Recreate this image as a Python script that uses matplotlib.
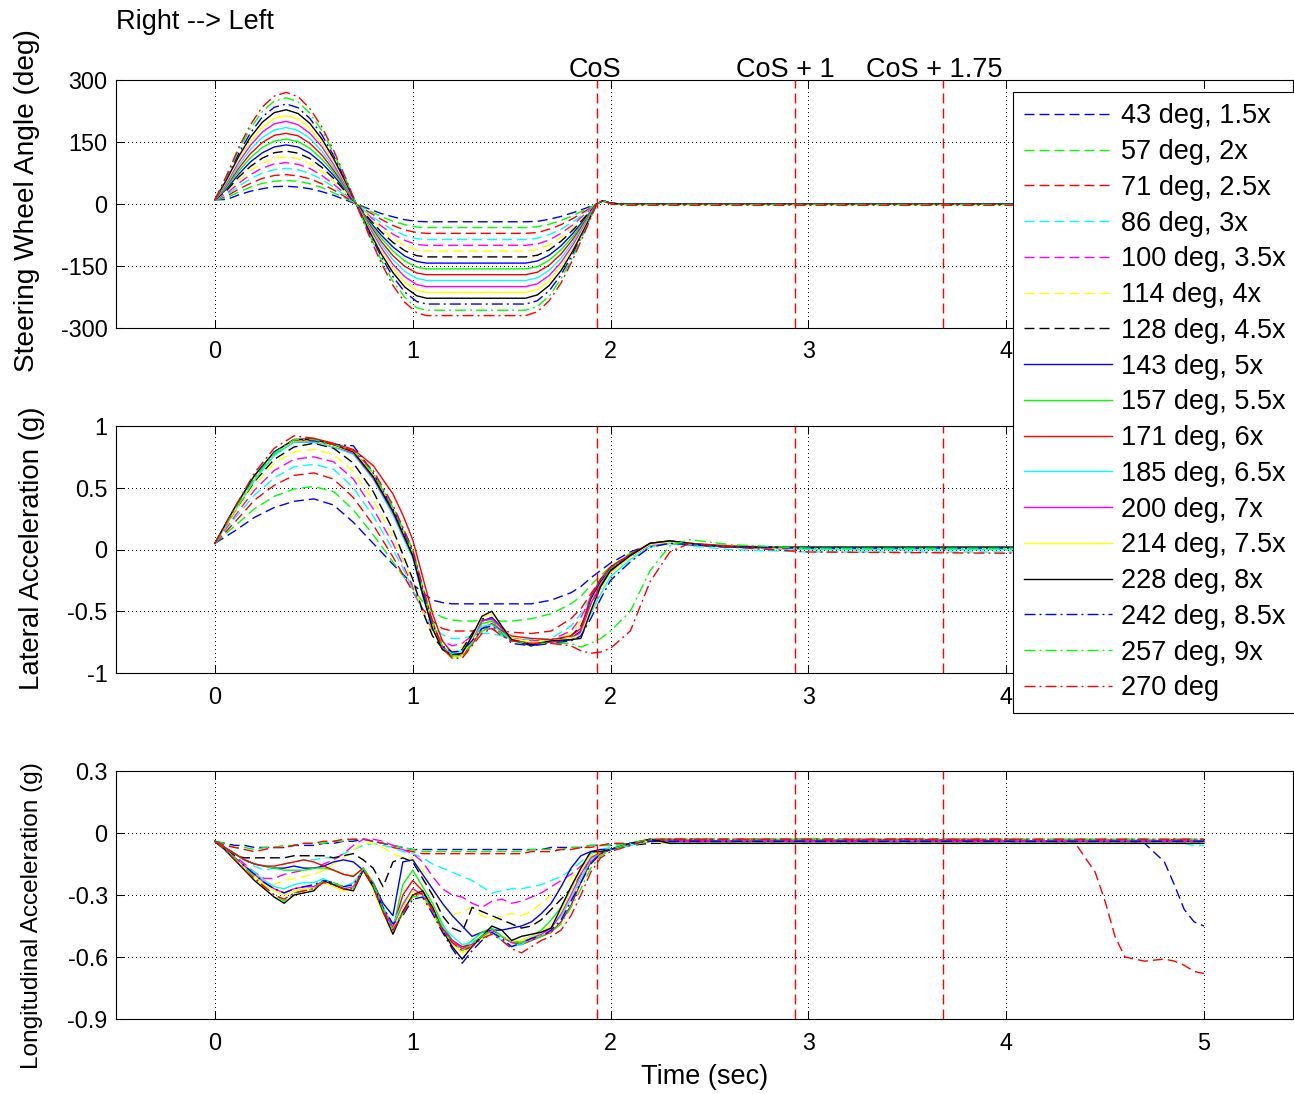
import matplotlib
matplotlib.use("Agg")
import matplotlib.pyplot as plt
from matplotlib.lines import Line2D
from matplotlib.legend_handler import HandlerLine2D

plt.rcParams['font.family'] = ['Liberation Sans', 'DejaVu Sans']
plt.rcParams['axes.unicode_minus'] = False
plt.rcParams['lines.scale_dashes'] = False

# ---------------------------------------------------------------- data
run_labels = ["43 deg, 1.5x", "57 deg, 2x", "71 deg, 2.5x", "86 deg, 3x",
              "100 deg, 3.5x", "114 deg, 4x", "128 deg, 4.5x", "143 deg, 5x",
              "157 deg, 5.5x", "171 deg, 6x", "185 deg, 6.5x", "200 deg, 7x",
              "214 deg, 7.5x", "228 deg, 8x", "242 deg, 8.5x", "257 deg, 9x",
              "270 deg"]
# pure RGB primaries / secondaries
run_colors = ['#0000ff', '#00ff00', '#ff0000', '#00ffff', '#ff00ff', '#ffff00', '#000000',
              '#0000ff', '#00ff00', '#ff0000', '#00ffff', '#ff00ff', '#ffff00', '#000000',
              '#0000ff', '#00ff00', '#ff0000']
run_styles = ['dash'] * 7 + ['solid'] * 7 + ['dashdot'] * 3

# Steering wheel angle (deg)
time_swa = [0.00, 0.06, 0.12, 0.18, 0.24, 0.30, 0.36, 0.42, 0.48, 0.54, 0.60,
            0.66, 0.72, 0.78, 0.84, 0.90, 0.96, 1.02, 1.07, 1.57, 1.63, 1.69,
            1.75, 1.81, 1.87, 1.93, 1.96, 2.00, 2.05, 5.00]
swa = [
    [10, 11, 22, 31, 37, 42, 43, 41, 37, 30, 21, 10, -1, -12, -23, -31, -38, -42, -43, -43, -42, -37, -30, -21, -11, 0, 7, 2, 0, 0],
    [10, 15, 29, 41, 50, 55, 57, 55, 49, 40, 27, 14, -1, -16, -30, -42, -50, -56, -57, -57, -55, -49, -40, -28, -14, 0, 7, 2, 0, 0],
    [10, 19, 36, 50, 62, 69, 71, 68, 61, 49, 34, 17, -2, -20, -37, -52, -63, -69, -71, -71, -69, -61, -50, -35, -18, 0, 7, 1, -1, -1],
    [10, 22, 43, 61, 75, 83, 86, 83, 74, 60, 41, 20, -2, -25, -45, -63, -76, -84, -86, -86, -83, -74, -61, -43, -22, 0, 7, 2, 0, 0],
    [10, 26, 50, 71, 87, 97, 100, 96, 86, 69, 48, 24, -3, -29, -53, -73, -88, -98, -100, -100, -97, -87, -71, -50, -25, 0, 8, 2, 0, 0],
    [10, 30, 57, 81, 99, 110, 114, 110, 98, 79, 55, 27, -3, -32, -60, -83, -100, -111, -114, -114, -110, -99, -80, -57, -29, 0, 8, 2, 0, 0],
    [10, 33, 65, 91, 111, 124, 128, 123, 110, 89, 62, 30, -3, -36, -67, -93, -113, -125, -128, -128, -124, -111, -90, -63, -32, 0, 8, 2, 0, 0],
    [10, 37, 72, 102, 124, 138, 143, 138, 123, 99, 69, 34, -4, -41, -75, -104, -126, -139, -143, -143, -138, -124, -101, -71, -36, 0, 8, 2, 0, 0],
    [10, 41, 79, 112, 137, 152, 157, 151, 135, 109, 76, 37, -4, -45, -82, -114, -138, -153, -157, -157, -152, -136, -111, -78, -40, 0, 8, 2, 0, 0],
    [10, 45, 86, 122, 149, 166, 171, 165, 147, 119, 82, 41, -4, -49, -90, -125, -151, -167, -171, -171, -165, -148, -121, -85, -43, 0, 8, 2, 0, 0],
    [10, 48, 93, 132, 161, 179, 185, 178, 159, 128, 89, 44, -5, -53, -97, -135, -163, -180, -185, -185, -179, -160, -131, -92, -47, 0, 8, 2, 0, 0],
    [10, 52, 101, 142, 174, 194, 200, 192, 171, 139, 96, 47, -5, -57, -105, -146, -176, -195, -200, -200, -193, -173, -141, -99, -51, 0, 8, 2, 0, 0],
    [10, 56, 108, 152, 186, 207, 214, 206, 183, 148, 103, 51, -5, -61, -112, -156, -189, -209, -214, -214, -207, -185, -151, -106, -54, 0, 8, 2, 0, 0],
    [10, 60, 115, 162, 198, 221, 228, 219, 195, 158, 110, 54, -6, -65, -120, -166, -201, -222, -228, -228, -220, -197, -161, -113, -58, 0, 8, 2, 0, 0],
    [10, 63, 122, 172, 211, 234, 242, 233, 207, 168, 117, 57, -6, -69, -127, -176, -213, -236, -242, -242, -234, -210, -171, -120, -61, 0, 8, 2, 0, 0],
    [10, 67, 130, 183, 224, 249, 257, 247, 220, 178, 124, 61, -6, -73, -135, -187, -226, -251, -257, -257, -248, -223, -181, -127, -65, 0, 8, 1, -1, -1],
    [10, 70, 136, 192, 235, 261, 270, 260, 231, 187, 130, 64, -7, -77, -142, -197, -238, -263, -270, -270, -261, -234, -191, -134, -68, 0, 8, 1, -3, -3],
]

# Lateral acceleration (g)
time_ay = [0.0, 0.1, 0.2, 0.3, 0.4, 0.5, 0.6, 0.7, 0.8, 0.9, 0.95, 1.0, 1.05,
           1.1, 1.15, 1.2, 1.25, 1.3, 1.35, 1.4, 1.45, 1.5, 1.6, 1.7, 1.8,
           1.85, 1.9, 1.95, 2.0, 2.1, 2.2, 2.3, 2.4, 2.6, 3.0, 4.0, 5.0]
ay = [
    [0.05, 0.15, 0.26, 0.34, 0.39, 0.41, 0.36, 0.22, 0.05, -0.12, -0.20, -0.28, -0.35, -0.41, -0.43, -0.44, -0.44, -0.44, -0.44, -0.44, -0.44, -0.44, -0.44, -0.41, -0.35, -0.30, -0.23, -0.17, -0.11, -0.02, 0.04, 0.05, 0.04, 0.02, 0.01, 0.01, 0.01],
    [0.05, 0.19, 0.33, 0.43, 0.49, 0.51, 0.47, 0.32, 0.12, -0.10, -0.21, -0.32, -0.42, -0.50, -0.55, -0.57, -0.58, -0.58, -0.57, -0.57, -0.58, -0.58, -0.56, -0.52, -0.44, -0.38, -0.29, -0.21, -0.14, -0.03, 0.04, 0.06, 0.04, 0.02, 0.01, 0.01, 0.01],
    [0.05, 0.22, 0.40, 0.52, 0.60, 0.62, 0.57, 0.42, 0.20, -0.06, -0.20, -0.34, -0.48, -0.58, -0.64, -0.66, -0.66, -0.66, -0.65, -0.64, -0.66, -0.67, -0.68, -0.66, -0.56, -0.48, -0.36, -0.24, -0.15, -0.04, 0.04, 0.06, 0.04, 0.02, 0.00, 0.00, 0.00],
    [0.05, 0.25, 0.44, 0.58, 0.67, 0.69, 0.65, 0.50, 0.27, 0.00, -0.15, -0.32, -0.50, -0.62, -0.69, -0.72, -0.72, -0.70, -0.68, -0.68, -0.70, -0.72, -0.73, -0.72, -0.62, -0.52, -0.38, -0.26, -0.16, -0.05, 0.03, 0.05, 0.03, 0.00, -0.02, -0.02, -0.02],
    [0.05, 0.27, 0.48, 0.64, 0.73, 0.75, 0.71, 0.57, 0.33, 0.05, -0.12, -0.30, -0.50, -0.66, -0.74, -0.78, -0.76, -0.70, -0.64, -0.64, -0.68, -0.72, -0.74, -0.73, -0.66, -0.55, -0.40, -0.27, -0.17, -0.05, 0.03, 0.05, 0.04, 0.02, 0.01, 0.01, 0.01],
    [0.05, 0.29, 0.52, 0.70, 0.79, 0.81, 0.77, 0.63, 0.40, 0.10, -0.08, -0.27, -0.50, -0.68, -0.78, -0.82, -0.79, -0.68, -0.60, -0.60, -0.66, -0.72, -0.75, -0.74, -0.68, -0.58, -0.42, -0.28, -0.17, -0.05, 0.04, 0.06, 0.04, 0.02, 0.01, 0.01, 0.01],
    [0.05, 0.31, 0.55, 0.73, 0.83, 0.86, 0.82, 0.70, 0.47, 0.16, -0.04, -0.24, -0.50, -0.70, -0.80, -0.85, -0.81, -0.68, -0.56, -0.56, -0.64, -0.72, -0.76, -0.74, -0.70, -0.62, -0.44, -0.30, -0.18, -0.06, 0.04, 0.06, 0.04, 0.02, 0.01, 0.01, 0.01],
    [0.05, 0.33, 0.58, 0.77, 0.87, 0.87, 0.83, 0.78, 0.58, 0.30, 0.13, -0.05, -0.35, -0.62, -0.79, -0.85, -0.84, -0.72, -0.58, -0.55, -0.63, -0.73, -0.78, -0.74, -0.72, -0.66, -0.40, -0.26, -0.16, -0.05, 0.05, 0.06, 0.04, 0.02, 0.01, 0.01, 0.01],
    [0.05, 0.32, 0.57, 0.77, 0.88, 0.88, 0.84, 0.79, 0.60, 0.32, 0.15, -0.02, -0.32, -0.60, -0.80, -0.88, -0.86, -0.73, -0.60, -0.58, -0.66, -0.74, -0.76, -0.75, -0.73, -0.68, -0.44, -0.28, -0.16, -0.05, 0.05, 0.07, 0.05, 0.02, 0.01, 0.01, 0.01],
    [0.05, 0.33, 0.58, 0.78, 0.89, 0.90, 0.86, 0.81, 0.68, 0.45, 0.28, 0.08, -0.22, -0.52, -0.74, -0.84, -0.86, -0.77, -0.64, -0.60, -0.66, -0.70, -0.72, -0.73, -0.70, -0.64, -0.38, -0.24, -0.14, -0.04, 0.05, 0.07, 0.05, 0.03, 0.01, 0.01, 0.01],
    [0.05, 0.31, 0.56, 0.76, 0.87, 0.87, 0.83, 0.77, 0.57, 0.28, 0.10, -0.07, -0.38, -0.64, -0.80, -0.84, -0.82, -0.72, -0.62, -0.61, -0.67, -0.74, -0.75, -0.74, -0.72, -0.68, -0.52, -0.36, -0.22, -0.08, 0.02, 0.05, 0.04, 0.02, 0.00, 0.00, 0.00],
    [0.05, 0.33, 0.59, 0.78, 0.88, 0.88, 0.84, 0.78, 0.58, 0.30, 0.12, -0.05, -0.36, -0.63, -0.80, -0.86, -0.84, -0.72, -0.58, -0.56, -0.64, -0.73, -0.76, -0.75, -0.73, -0.67, -0.44, -0.29, -0.17, -0.05, 0.04, 0.06, 0.05, 0.02, 0.01, 0.01, 0.01],
    [0.05, 0.32, 0.58, 0.78, 0.88, 0.88, 0.84, 0.79, 0.60, 0.33, 0.15, -0.03, -0.33, -0.62, -0.81, -0.88, -0.86, -0.72, -0.55, -0.52, -0.62, -0.72, -0.75, -0.74, -0.72, -0.69, -0.48, -0.32, -0.19, -0.06, 0.04, 0.06, 0.05, 0.02, 0.01, 0.01, 0.01],
    [0.05, 0.34, 0.60, 0.79, 0.89, 0.89, 0.85, 0.79, 0.59, 0.31, 0.13, -0.05, -0.36, -0.64, -0.81, -0.86, -0.84, -0.70, -0.54, -0.50, -0.62, -0.73, -0.77, -0.74, -0.73, -0.72, -0.50, -0.30, -0.17, -0.05, 0.05, 0.07, 0.05, 0.02, 0.02, 0.02, 0.02],
    [0.05, 0.33, 0.59, 0.79, 0.89, 0.88, 0.85, 0.84, 0.62, 0.33, 0.16, -0.02, -0.33, -0.60, -0.78, -0.83, -0.82, -0.74, -0.64, -0.62, -0.68, -0.76, -0.78, -0.76, -0.74, -0.70, -0.56, -0.40, -0.25, -0.10, 0.02, 0.05, 0.04, 0.02, 0.01, 0.01, 0.01],
    [0.05, 0.32, 0.58, 0.78, 0.89, 0.89, 0.85, 0.80, 0.62, 0.34, 0.17, 0.00, -0.30, -0.58, -0.78, -0.86, -0.86, -0.76, -0.66, -0.63, -0.68, -0.74, -0.76, -0.76, -0.76, -0.79, -0.76, -0.72, -0.66, -0.50, -0.17, 0.03, 0.08, 0.04, 0.01, 0.01, 0.01],
    [0.05, 0.34, 0.62, 0.82, 0.92, 0.90, 0.85, 0.80, 0.64, 0.36, 0.18, 0.00, -0.30, -0.58, -0.80, -0.88, -0.88, -0.78, -0.68, -0.64, -0.70, -0.74, -0.76, -0.76, -0.78, -0.82, -0.84, -0.83, -0.80, -0.66, -0.26, -0.02, 0.05, 0.02, -0.02, -0.03, -0.03],
]

# Longitudinal acceleration (g)
time_ax = [0.0, 0.05, 0.1, 0.15, 0.2, 0.25, 0.3, 0.35, 0.4, 0.45, 0.5, 0.55,
           0.6, 0.65, 0.7, 0.75, 0.8, 0.85, 0.9, 0.95, 1.0, 1.05, 1.1, 1.15,
           1.2, 1.25, 1.3, 1.35, 1.4, 1.45, 1.5, 1.55, 1.6, 1.65, 1.7, 1.75,
           1.8, 1.85, 1.9, 1.95, 2.0, 2.1, 2.2, 2.3, 2.5, 3.0, 3.5, 4.0, 4.35,
           4.45, 4.5, 4.55, 4.6, 4.7, 4.8, 4.85, 4.9, 4.95, 5.0]
ax_g = [
    [-0.04, -0.05, -0.06, -0.06, -0.07, -0.07, -0.07, -0.07, -0.06, -0.06, -0.06, -0.05, -0.05, -0.04, -0.04, -0.03, -0.04, -0.05, -0.06, -0.07,
     -0.08, -0.08, -0.08, -0.08, -0.08, -0.08, -0.08, -0.08, -0.08, -0.08, -0.08, -0.08, -0.08, -0.08, -0.07, -0.07, -0.07, -0.07, -0.06, -0.06, -0.06,
     -0.05, -0.04, -0.04, -0.04, -0.04, -0.03, -0.04, -0.04, -0.04, -0.04, -0.04, -0.04, -0.05, -0.14, -0.25, -0.37, -0.43, -0.45],
    [-0.04, -0.05, -0.07, -0.07, -0.08, -0.07, -0.07, -0.06, -0.06, -0.05, -0.05, -0.05, -0.04, -0.04, -0.03, -0.03, -0.04, -0.05, -0.06, -0.07,
     -0.08, -0.09, -0.09, -0.09, -0.09, -0.09, -0.09, -0.09, -0.09, -0.09, -0.09, -0.09, -0.08, -0.08, -0.08, -0.08, -0.07, -0.07, -0.06, -0.06, -0.06,
     -0.05, -0.03, -0.03, -0.03, -0.03, -0.04, -0.03, -0.03, -0.03, -0.04, -0.03, -0.03, -0.03, -0.04, -0.03, -0.03, -0.03, -0.03],
    [-0.04, -0.06, -0.07, -0.08, -0.09, -0.08, -0.07, -0.07, -0.06, -0.05, -0.05, -0.04, -0.04, -0.03, -0.03, -0.03, -0.04, -0.05, -0.07, -0.08,
     -0.09, -0.10, -0.10, -0.10, -0.10, -0.10, -0.10, -0.10, -0.10, -0.10, -0.10, -0.10, -0.09, -0.09, -0.09, -0.08, -0.08, -0.07, -0.07, -0.06, -0.05,
     -0.05, -0.04, -0.03, -0.03, -0.03, -0.03, -0.03, -0.05, -0.19, -0.33, -0.50, -0.60, -0.62, -0.61, -0.62, -0.64, -0.67, -0.68],
    [-0.04, -0.07, -0.10, -0.13, -0.16, -0.18, -0.17, -0.15, -0.14, -0.13, -0.13, -0.12, -0.12, -0.10, -0.08, -0.06, -0.05, -0.06, -0.07, -0.09,
     -0.10, -0.12, -0.15, -0.17, -0.19, -0.21, -0.23, -0.26, -0.29, -0.28, -0.27, -0.27, -0.26, -0.25, -0.23, -0.21, -0.18, -0.14, -0.10, -0.08, -0.07,
     -0.05, -0.04, -0.05, -0.05, -0.05, -0.04, -0.05, -0.05, -0.05, -0.04, -0.05, -0.05, -0.05, -0.05, -0.05, -0.05, -0.06, -0.06],
    [-0.04, -0.07, -0.11, -0.15, -0.19, -0.22, -0.22, -0.20, -0.19, -0.18, -0.17, -0.15, -0.13, -0.10, -0.06, -0.03, -0.03, -0.04, -0.06, -0.08,
     -0.10, -0.14, -0.21, -0.27, -0.30, -0.31, -0.34, -0.36, -0.33, -0.32, -0.34, -0.33, -0.31, -0.29, -0.26, -0.23, -0.20, -0.16, -0.12, -0.09, -0.08,
     -0.05, -0.04, -0.04, -0.04, -0.04, -0.04, -0.04, -0.04, -0.04, -0.04, -0.04, -0.04, -0.04, -0.04, -0.04, -0.04, -0.04, -0.04],
    [-0.04, -0.08, -0.12, -0.17, -0.22, -0.26, -0.25, -0.23, -0.22, -0.21, -0.20, -0.18, -0.15, -0.12, -0.08, -0.05, -0.05, -0.07, -0.10, -0.12,
     -0.12, -0.18, -0.27, -0.35, -0.40, -0.38, -0.36, -0.40, -0.42, -0.40, -0.39, -0.40, -0.38, -0.34, -0.30, -0.26, -0.22, -0.17, -0.12, -0.09, -0.08,
     -0.06, -0.04, -0.05, -0.05, -0.05, -0.05, -0.05, -0.05, -0.05, -0.05, -0.05, -0.05, -0.05, -0.05, -0.05, -0.05, -0.05, -0.05],
    [-0.04, -0.08, -0.11, -0.12, -0.12, -0.12, -0.12, -0.12, -0.11, -0.11, -0.11, -0.11, -0.12, -0.11, -0.10, -0.13, -0.17, -0.26, -0.14, -0.12,
     -0.14, -0.22, -0.30, -0.40, -0.46, -0.48, -0.36, -0.38, -0.40, -0.42, -0.44, -0.46, -0.45, -0.42, -0.37, -0.32, -0.27, -0.20, -0.13, -0.09, -0.08,
     -0.06, -0.05, -0.05, -0.05, -0.05, -0.05, -0.05, -0.05, -0.05, -0.05, -0.05, -0.05, -0.05, -0.05, -0.05, -0.05, -0.05, -0.05],
    [-0.04, -0.07, -0.10, -0.13, -0.15, -0.16, -0.17, -0.17, -0.16, -0.17, -0.17, -0.16, -0.14, -0.13, -0.14, -0.18, -0.24, -0.34, -0.40, -0.14,
     -0.13, -0.20, -0.27, -0.34, -0.40, -0.45, -0.50, -0.48, -0.47, -0.47, -0.46, -0.45, -0.43, -0.39, -0.34, -0.26, -0.17, -0.11, -0.09, -0.08, -0.08,
     -0.05, -0.04, -0.04, -0.04, -0.04, -0.04, -0.04, -0.04, -0.04, -0.04, -0.04, -0.04, -0.04, -0.04, -0.04, -0.04, -0.04, -0.04],
    [-0.04, -0.07, -0.10, -0.13, -0.15, -0.16, -0.17, -0.18, -0.18, -0.18, -0.17, -0.17, -0.18, -0.20, -0.21, -0.17, -0.24, -0.36, -0.46, -0.25,
     -0.18, -0.26, -0.34, -0.44, -0.52, -0.56, -0.52, -0.48, -0.46, -0.50, -0.53, -0.52, -0.50, -0.47, -0.42, -0.36, -0.27, -0.18, -0.11, -0.09, -0.08,
     -0.05, -0.03, -0.04, -0.04, -0.03, -0.04, -0.04, -0.04, -0.03, -0.04, -0.04, -0.04, -0.03, -0.04, -0.04, -0.04, -0.04, -0.04],
    [-0.04, -0.07, -0.10, -0.13, -0.15, -0.16, -0.16, -0.15, -0.14, -0.13, -0.14, -0.16, -0.18, -0.20, -0.21, -0.17, -0.25, -0.37, -0.46, -0.30,
     -0.23, -0.28, -0.36, -0.46, -0.52, -0.55, -0.54, -0.50, -0.48, -0.50, -0.53, -0.54, -0.52, -0.50, -0.48, -0.43, -0.35, -0.24, -0.14, -0.10, -0.08,
     -0.05, -0.04, -0.03, -0.04, -0.04, -0.03, -0.04, -0.04, -0.04, -0.03, -0.04, -0.04, -0.04, -0.04, -0.03, -0.04, -0.04, -0.04],
    [-0.04, -0.08, -0.12, -0.16, -0.19, -0.23, -0.26, -0.27, -0.25, -0.24, -0.24, -0.22, -0.25, -0.26, -0.24, -0.18, -0.26, -0.36, -0.44, -0.34,
     -0.27, -0.30, -0.37, -0.45, -0.50, -0.54, -0.53, -0.50, -0.48, -0.52, -0.55, -0.54, -0.51, -0.48, -0.46, -0.40, -0.32, -0.22, -0.13, -0.09, -0.08,
     -0.06, -0.04, -0.05, -0.05, -0.05, -0.05, -0.05, -0.05, -0.05, -0.05, -0.05, -0.05, -0.05, -0.05, -0.05, -0.05, -0.05, -0.05],
    [-0.04, -0.08, -0.12, -0.16, -0.20, -0.24, -0.27, -0.29, -0.27, -0.26, -0.26, -0.23, -0.25, -0.27, -0.26, -0.18, -0.26, -0.37, -0.46, -0.35,
     -0.27, -0.30, -0.38, -0.47, -0.52, -0.56, -0.54, -0.50, -0.47, -0.50, -0.53, -0.53, -0.51, -0.49, -0.46, -0.39, -0.30, -0.20, -0.12, -0.09, -0.08,
     -0.05, -0.04, -0.04, -0.04, -0.04, -0.04, -0.04, -0.04, -0.04, -0.04, -0.04, -0.04, -0.04, -0.04, -0.04, -0.04, -0.04, -0.04],
    [-0.04, -0.08, -0.12, -0.17, -0.21, -0.25, -0.28, -0.30, -0.28, -0.27, -0.27, -0.24, -0.26, -0.28, -0.27, -0.18, -0.27, -0.39, -0.47, -0.36,
     -0.28, -0.31, -0.39, -0.48, -0.54, -0.58, -0.55, -0.51, -0.48, -0.50, -0.52, -0.52, -0.50, -0.48, -0.45, -0.38, -0.28, -0.18, -0.11, -0.09, -0.08,
     -0.05, -0.04, -0.05, -0.05, -0.05, -0.05, -0.05, -0.05, -0.05, -0.05, -0.05, -0.05, -0.05, -0.05, -0.05, -0.05, -0.05, -0.05],
    [-0.04, -0.08, -0.13, -0.18, -0.23, -0.27, -0.31, -0.34, -0.30, -0.29, -0.28, -0.23, -0.25, -0.27, -0.28, -0.18, -0.26, -0.38, -0.49, -0.38,
     -0.30, -0.28, -0.36, -0.47, -0.55, -0.61, -0.55, -0.50, -0.45, -0.47, -0.52, -0.50, -0.49, -0.48, -0.46, -0.36, -0.26, -0.17, -0.09, -0.09, -0.08,
     -0.05, -0.03, -0.05, -0.05, -0.05, -0.05, -0.05, -0.05, -0.05, -0.05, -0.05, -0.05, -0.05, -0.05, -0.05, -0.05, -0.05, -0.05],
    [-0.04, -0.08, -0.12, -0.16, -0.20, -0.24, -0.27, -0.29, -0.27, -0.26, -0.25, -0.23, -0.24, -0.26, -0.25, -0.18, -0.25, -0.36, -0.44, -0.40,
     -0.32, -0.31, -0.39, -0.48, -0.56, -0.63, -0.57, -0.52, -0.48, -0.51, -0.55, -0.53, -0.51, -0.50, -0.47, -0.42, -0.33, -0.24, -0.15, -0.10, -0.08,
     -0.05, -0.04, -0.04, -0.04, -0.04, -0.04, -0.04, -0.04, -0.04, -0.04, -0.04, -0.04, -0.04, -0.04, -0.04, -0.04, -0.04, -0.04],
    [-0.04, -0.08, -0.12, -0.17, -0.21, -0.26, -0.30, -0.33, -0.29, -0.28, -0.27, -0.23, -0.24, -0.26, -0.27, -0.17, -0.25, -0.37, -0.47, -0.39,
     -0.31, -0.30, -0.37, -0.47, -0.53, -0.57, -0.54, -0.50, -0.47, -0.50, -0.53, -0.53, -0.52, -0.50, -0.48, -0.44, -0.36, -0.27, -0.17, -0.11, -0.08,
     -0.05, -0.03, -0.03, -0.03, -0.03, -0.03, -0.03, -0.03, -0.03, -0.03, -0.03, -0.03, -0.03, -0.03, -0.03, -0.03, -0.03, -0.03],
    [-0.04, -0.08, -0.13, -0.18, -0.22, -0.26, -0.30, -0.32, -0.29, -0.28, -0.27, -0.24, -0.25, -0.27, -0.27, -0.18, -0.26, -0.38, -0.47, -0.39,
     -0.30, -0.29, -0.37, -0.47, -0.53, -0.57, -0.55, -0.51, -0.49, -0.52, -0.56, -0.58, -0.55, -0.52, -0.50, -0.47, -0.40, -0.30, -0.19, -0.12, -0.09,
     -0.06, -0.03, -0.03, -0.03, -0.03, -0.03, -0.03, -0.03, -0.03, -0.03, -0.03, -0.03, -0.03, -0.03, -0.03, -0.03, -0.03, -0.03],
]

# Manoeuvre event markers (s): completion of steer and later checkpoints
event_times = [1.93, 2.93, 3.68]
event_labels = ["CoS", "CoS + 1", "CoS + 1.75"]

x_ticks = [0, 1, 2, 3, 4, 5]
x_tick_labels = ["0", "1", "2", "3", "4", "5"]
swa_ticks = [-300, -150, 0, 150, 300]
swa_tick_labels = ["-300", "-150", "0", "150", "300"]
ay_ticks = [-1, -0.5, 0, 0.5, 1]
ay_tick_labels = ["-1", "-0.5", "0", "0.5", "1"]
ax_ticks = [-0.9, -0.6, -0.3, 0, 0.3]
ax_tick_labels = ["-0.9", "-0.6", "-0.3", "0", "0.3"]

# ---------------------------------------------------------------- styling
W, H = 1294, 1094
DPI = 100
PX = 72.0 / DPI                     # points per pixel
LW = 1.4 * PX
LINE_STYLES = {
    'dash': (0, (10 * PX, 5 * PX)),
    'solid': '-',
    'dashdot': (0, (11 * PX, 4 * PX, 2 * PX, 4 * PX)),
}
GRID_STYLE = (0, (1 * PX, 3 * PX))
TICK_FS = 16.8
TEXT_FS = 19.5
LEGEND_FS = 19.5

fig = plt.figure(figsize=(W / DPI, H / DPI), dpi=DPI)
fig.patch.set_facecolor('white')


def px_axes(left, top, right, bottom):
    return fig.add_axes([left / W, 1 - bottom / H, (right - left) / W, (bottom - top) / H])


ax_top = px_axes(116, 80, 1293, 328)
ax_mid = px_axes(116, 426, 1293, 673)
ax_bot = px_axes(116, 771, 1293, 1019)

panels = [
    (ax_top, time_swa, swa, (-300, 300), swa_ticks, swa_tick_labels,
     "Steering Wheel Angle (deg)", 20.2, (-0.076, 0.512)),
    (ax_mid, time_ay, ay, (-1, 1), ay_ticks, ay_tick_labels,
     "Lateral Acceleration (g)", 19.9, (-0.071, 0.504)),
    (ax_bot, time_ax, ax_g, (-0.9, 0.3), ax_ticks, ax_tick_labels,
     "Longitudinal Acceleration (g)", 17.6, (-0.071, 0.419)),
]

legend_handles = []
for ax, t, series, ylim, yt, ytl, ylabel, ylabel_fs, lab_xy in panels:
    ax.set_xlim(-0.5, 5.45)
    ax.set_ylim(*ylim)
    ax.set_xticks(x_ticks)
    # the last tick label of the upper two panels sits under the legend box
    shown = x_tick_labels if ax is ax_bot else x_tick_labels[:-1] + [""]
    ax.set_xticklabels(shown)
    ax.set_yticks(yt)
    ax.set_yticklabels(ytl)
    ax.set_axisbelow(True)
    ax.grid(True, color='k', linestyle=GRID_STYLE, linewidth=1.0 * PX, antialiased=False)
    ax.tick_params(direction='in', length=6, width=0.75, top=True, right=True,
                   labelsize=TICK_FS, colors='k')
    ax.tick_params(axis='x', pad=9)
    ax.tick_params(axis='y', pad=6)
    for s in ax.spines.values():
        s.set_linewidth(0.8)
        s.set_color('k')

    for i, vals in enumerate(series):
        ln, = ax.plot(t, vals, color=run_colors[i], linestyle=LINE_STYLES[run_styles[i]],
                      linewidth=LW, label=run_labels[i])
        if ax is ax_top:
            legend_handles.append(ln)

    for ev in event_times:
        ax.axvline(ev, color='#ff0000', linestyle=LINE_STYLES['dash'], linewidth=LW, zorder=3)

    ax.set_ylabel(ylabel, fontsize=ylabel_fs, va='center')
    ax.yaxis.set_label_coords(*lab_xy)

# event captions above the top panel
caption_shift = [-0.01, -0.045, -0.045]
for ev, txt, dx in zip(event_times, event_labels, caption_shift):
    ax_top.text(ev + dx, 1.012, txt, transform=ax_top.get_xaxis_transform(),
                ha='center', va='baseline', fontsize=TEXT_FS)

ax_bot.set_xlabel("Time (sec)", fontsize=TEXT_FS, va='center')
ax_bot.xaxis.set_label_coords(0.5, -0.234)

fig.text(116 / W, 1 - 22 / H, "Right --> Left", fontsize=TEXT_FS, va='center', ha='left')


class InsetLineHandler(HandlerLine2D):
    """Legend line sample that starts a little right of the handle box."""

    def create_artists(self, legend, orig_handle, xdescent, ydescent, width,
                       height, fontsize, trans):
        artists = super().create_artists(legend, orig_handle, xdescent, ydescent,
                                         width, height, fontsize, trans)
        for a in artists:
            xd = list(a.get_xdata())
            if len(xd) == 2:
                a.set_xdata([xd[0] + 0.10 * width, xd[1]])
        return artists


leg = fig.legend(handles=legend_handles, labels=run_labels, loc='upper left',
                 bbox_to_anchor=(1013 / W, 1 - 92 / H), bbox_transform=fig.transFigure,
                 borderaxespad=0, fontsize=LEGEND_FS, frameon=True, fancybox=False,
                 framealpha=1, edgecolor='k', handlelength=3.25, handletextpad=0.33,
                 labelspacing=0.36, borderpad=0.42,
                 handler_map={Line2D: InsetLineHandler()})
leg.get_frame().set_linewidth(0.8)

fig.savefig("out.png", dpi=DPI, facecolor='white')
